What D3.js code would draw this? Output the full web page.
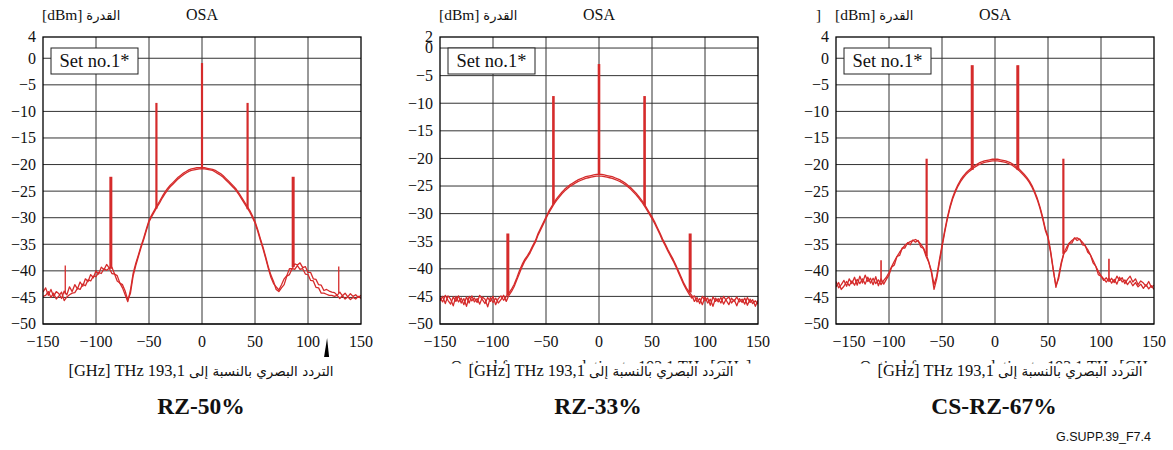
<!DOCTYPE html>
<html>
<head>
<meta charset="utf-8">
<script src="https://cdn.jsdelivr.net/npm/d3@7"></script>
<style>
  body { margin: 0; background: #fff; }
  svg text { font-family: "Liberation Serif", "Times New Roman", "DejaVu Serif", serif; fill: #111; }
  svg tspan.ar { font-family: "DejaVu Sans", sans-serif; }
</style>
</head>
<body>
<script>
// frequency grid of the OSA traces, GHz relative to 193.1 THz
const freq = d3.range(-150, 150.01, 2.5);

// RZ-50% : two sweeps
const rz50A = [
  -44.0,-43.2,-44.6,-43.5,-44.8,-43.9,-44.3,-45.2,-43.8,-44.5,
  -43.0,-43.9,-42.6,-43.4,-42.1,-42.9,-41.5,-42.0,-40.7,-41.3,
  -40.0,-40.6,-39.3,-39.8,-38.8,-39.5,-39.3,-40.6,-40.9,-42.3,
  -42.6,-43.8,-45.5,-44.2,-41.0,-39.0,-37.3,-35.6,-34.1,-32.4,
  -30.8,-29.8,-28.9,-28.0,-27.2,-26.3,-25.5,-24.8,-24.2,-23.7,
  -23.2,-22.7,-22.3,-21.9,-21.6,-21.3,-21.1,-21.0,-20.9,-20.8,
  -20.8,
  -20.8,-20.9,-21.0,-21.1,-21.4,-21.7,-22.0,-22.4,-22.9,-23.4,
  -23.9,-24.4,-25.0,-25.7,-26.5,-27.3,-28.1,-28.9,-29.9,-31.0,
  -32.5,-34.2,-35.8,-37.6,-39.5,-41.2,-42.4,-43.0,-43.6,-42.6,
  -41.5,-40.9,-39.6,-39.6,-38.7,-38.9,-38.5,-39.4,-39.2,-40.3,
  -40.3,-41.5,-41.6,-42.6,-42.7,-43.7,-43.5,-43.8,-44.0,-44.1,
  -44.6,-44.0,-44.7,-44.2,-44.9,-44.3,-44.8,-44.5,-45.0,-44.6
];
const rz50B = [
  -44.8,-44.6,-43.9,-45.0,-44.2,-45.3,-44.7,-44.0,-45.6,-44.9,
  -44.5,-44.2,-44.1,-43.3,-43.5,-42.5,-42.8,-41.7,-41.9,-41.0,
  -41.1,-40.3,-40.5,-39.6,-39.9,-39.5,-40.5,-40.6,-41.9,-42.3,
  -43.2,-44.5,-45.8,-43.6,-40.5,-38.6,-37.0,-35.3,-33.8,-32.1,
  -30.5,-29.5,-28.6,-27.7,-26.9,-26.0,-25.2,-24.5,-23.9,-23.4,
  -22.9,-22.4,-22.0,-21.6,-21.3,-21.0,-20.8,-20.7,-20.6,-20.6,
  -20.6,
  -20.6,-20.7,-20.8,-20.9,-21.1,-21.4,-21.7,-22.1,-22.6,-23.1,
  -23.6,-24.1,-24.7,-25.4,-26.2,-27.0,-27.8,-28.6,-29.6,-30.7,
  -32.2,-33.9,-35.5,-37.3,-39.2,-40.8,-42.0,-43.5,-43.9,-43.2,
  -42.6,-41.0,-40.7,-39.6,-39.7,-39.0,-39.7,-39.6,-40.6,-40.7,
  -41.8,-41.9,-43.1,-43.2,-44.2,-44.2,-44.4,-44.6,-44.6,-44.8,
  -44.6,-45.2,-44.7,-45.3,-44.9,-45.4,-45.0,-45.3,-44.8,-45.2
];
const rz50SpikeFreq = [-129, -86, -43, 0, 43, 86, 129];
const rz50SpikeTop  = [-39.0, -22.3, -8.4, -0.9, -8.4, -22.3, -39.2];
const rz50SpikeBase = [-44.4, -39.6, -28.3, -20.8, -28.4, -39.3, -44.2];

// RZ-33%
const rz33A = [
  -45.2,-46.0,-44.8,-45.7,-46.4,-45.1,-45.9,-44.9,-46.2,-45.4,
  -46.8,-45.0,-45.8,-45.3,-46.1,-44.8,-45.6,-46.3,-45.2,-45.9,
  -45.0,-46.5,-45.4,-44.9,-45.7,-45.0,-44.4,-43.7,-42.8,-41.6,
  -40.3,-39.2,-38.3,-37.6,-36.8,-35.8,-34.9,-33.6,-32.6,-31.6,
  -30.6,-29.6,-28.8,-28.0,-27.3,-26.7,-26.1,-25.6,-25.2,-24.8,
  -24.5,-24.2,-23.9,-23.7,-23.5,-23.3,-23.2,-23.1,-23.0,-22.9,
  -22.9,
  -22.9,-23.0,-23.1,-23.2,-23.3,-23.5,-23.7,-23.9,-24.2,-24.5,
  -24.9,-25.3,-25.8,-26.3,-26.9,-27.5,-28.2,-29.0,-29.8,-30.6,
  -31.5,-32.5,-33.5,-34.6,-35.5,-36.5,-37.4,-38.3,-39.3,-40.4,
  -41.5,-42.6,-43.5,-44.2,-44.8,-45.9,-45.2,-46.3,-45.0,-45.8,
  -45.3,-46.6,-45.1,-45.9,-45.4,-46.2,-45.0,-45.7,-46.5,-45.3,
  -45.9,-45.1,-46.0,-45.5,-46.4,-45.2,-46.1,-45.6,-46.8,-45.7
];
const rz33B = [
  -45.8,-45.0,-46.3,-44.9,-45.5,-46.7,-45.0,-46.0,-45.3,-46.5,
  -45.1,-46.2,-44.9,-46.0,-45.4,-46.4,-45.1,-45.5,-46.9,-45.2,
  -46.1,-45.3,-46.2,-45.6,-44.8,-45.9,-44.8,-44.1,-43.2,-42.0,
  -40.8,-39.6,-38.6,-37.9,-37.1,-36.1,-35.2,-33.9,-32.9,-31.9,
  -30.9,-29.9,-29.1,-28.3,-27.6,-27.0,-26.4,-25.9,-25.5,-25.1,
  -24.8,-24.5,-24.2,-24.0,-23.8,-23.6,-23.5,-23.4,-23.3,-23.2,
  -23.2,
  -23.2,-23.3,-23.4,-23.5,-23.6,-23.8,-24.0,-24.2,-24.5,-24.8,
  -25.2,-25.6,-26.1,-26.6,-27.2,-27.8,-28.5,-29.3,-30.1,-30.9,
  -31.8,-32.8,-33.8,-34.9,-35.8,-36.8,-37.7,-38.6,-39.6,-40.7,
  -41.8,-42.9,-43.8,-44.6,-45.3,-44.9,-46.0,-45.4,-46.5,-45.1,
  -46.2,-45.5,-46.8,-45.3,-46.0,-45.2,-46.4,-45.5,-45.1,-46.2,
  -45.6,-46.7,-45.4,-46.1,-45.3,-46.6,-45.5,-46.3,-45.8,-46.4
];
const rz33SpikeFreq = [-86, -43, 0, 43, 86];
const rz33SpikeTop  = [-33.6, -8.7, -2.9, -8.7, -33.6];
const rz33SpikeBase = [-44.8, -28.3, -22.9, -28.5, -44.3];

// CS-RZ-67%
const csrz67A = [
  -42.0,-43.2,-42.6,-41.8,-42.9,-41.5,-42.4,-41.2,-42.7,-41.0,
  -42.3,-40.8,-42.0,-41.4,-42.6,-41.1,-42.8,-41.5,-42.5,-41.6,
  -40.8,-39.3,-38.9,-37.3,-37.1,-35.7,-35.7,-34.7,-35.1,-34.2,
  -34.6,-34.3,-35.5,-35.8,-37.3,-38.4,-40.3,-43.5,-41.5,-38.5,
  -35.6,-32.8,-30.3,-28.2,-26.5,-25.2,-24.1,-23.2,-22.5,-21.9,
  -21.4,-21.0,-20.6,-20.3,-20.0,-19.8,-19.6,-19.5,-19.4,-19.3,
  -19.3,
  -19.3,-19.4,-19.5,-19.6,-19.8,-20.0,-20.3,-20.7,-21.1,-21.6,
  -22.1,-22.7,-23.4,-24.3,-25.4,-26.7,-28.3,-30.2,-32.4,-33.8,
  -36.6,-40.0,-42.8,-41.5,-38.8,-36.7,-36.2,-34.8,-34.8,-33.8,
  -34.3,-34.0,-35.1,-35.2,-36.5,-37.0,-38.5,-39.1,-40.7,-41.0,
  -41.8,-41.3,-42.0,-41.4,-42.2,-41.0,-41.8,-41.3,-42.4,-41.6,
  -41.0,-42.1,-41.5,-42.6,-41.9,-42.3,-42.9,-42.0,-43.1,-42.7
];
const csrz67B = [
  -43.0,-42.2,-43.5,-42.9,-42.0,-42.8,-41.9,-42.7,-41.6,-42.4,
  -41.5,-42.5,-41.2,-42.3,-41.4,-42.4,-41.7,-42.6,-41.8,-41.2,
  -40.3,-39.2,-38.2,-37.3,-36.5,-35.8,-35.2,-34.8,-34.5,-34.3,
  -34.1,-34.4,-35.0,-35.7,-36.8,-38.3,-40.0,-42.6,-41.0,-38.0,
  -35.2,-32.5,-30.0,-27.9,-26.2,-24.9,-23.8,-22.9,-22.2,-21.6,
  -21.1,-20.7,-20.3,-20.0,-19.7,-19.5,-19.3,-19.2,-19.1,-19.0,
  -19.0,
  -19.0,-19.1,-19.2,-19.3,-19.5,-19.7,-20.0,-20.4,-20.8,-21.3,
  -21.8,-22.4,-23.1,-24.0,-25.1,-26.4,-28.0,-29.9,-32.1,-33.5,
  -36.3,-39.7,-43.1,-41.0,-38.4,-36.6,-35.6,-34.8,-34.3,-33.9,
  -33.8,-34.1,-34.6,-35.3,-36.0,-37.0,-38.0,-39.1,-40.1,-40.9,
  -41.5,-42.1,-41.4,-42.3,-41.6,-42.5,-41.2,-42.1,-41.7,-42.6,
  -41.9,-42.8,-42.2,-43.0,-42.5,-43.3,-42.6,-43.4,-42.8,-43.5
];
const csrz67SpikeFreq = [-107.5, -64.5, -21.5, 21.5, 64.5, 107.5];
const csrz67SpikeTop  = [-38.0, -18.9, -1.3, -1.3, -18.9, -37.7];
const csrz67SpikeBase = [-42.2, -37.2, -21.0, -21.0, -36.8, -41.6];

// ticks and labels
const xTicks = [-150, -100, -50, 0, 50, 100, 150];
const yGrid = [0, -5, -10, -15, -20, -25, -30, -35, -40, -45, -50];
const titles = ["RZ-50%", "RZ-33%", "CS-RZ-67%"];
const yUnit = "[dBm] ", yWord = "القدرة";
const xUnit = "[GHz] THz 193,1 ", xWords = "التردد البصري بالنسبة إلى";
const xLabelHidden = "Optical frequency relative to 193.1 THz [GHz]";
const boxLabel = "Set no.1*";
const figId = "G.SUPP.39_F7.4";

const W = 1173, H = 450;
const red = "#d52b2b";
const plotW = 318, plotTop = 37, plotBottom = 324;

const panels = [
  { left: 43,  yMax: 4, a: rz50A, b: rz50B, sf: rz50SpikeFreq, st: rz50SpikeTop, sb: rz50SpikeBase,
    sw: [1.3, 3, 2.2, 2.2, 2.2, 3, 1.3], title: titles[0], titleDx: 158, hidden: false, marker: true, stray: false },
  { left: 440, yMax: 2, a: rz33A, b: rz33B, sf: rz33SpikeFreq, st: rz33SpikeTop, sb: rz33SpikeBase,
    sw: [3, 2.6, 2.6, 2.6, 3], title: titles[1], titleDx: 161, hidden: true, marker: false, stray: false },
  { left: 836, yMax: 4, a: csrz67A, b: csrz67B, sf: csrz67SpikeFreq, st: csrz67SpikeTop, sb: csrz67SpikeBase,
    sw: [1.6, 2.2, 3, 3, 2.2, 1.6], title: titles[2], titleDx: 174, hidden: true, marker: false, stray: true }
];

const svg = d3.select("body").append("svg")
  .attr("width", W)
  .attr("height", H);

panels.forEach((p, k) => {
  const x = d3.scaleLinear().domain([-150, 150]).range([p.left, p.left + plotW]);
  const y = d3.scaleLinear().domain([-50, p.yMax]).range([plotBottom, plotTop]);
  const g = svg.append("g");

  // clip for traces
  const clipId = "clip" + k;
  svg.append("clipPath").attr("id", clipId)
    .append("rect")
    .attr("x", x(-150)).attr("y", plotTop)
    .attr("width", plotW).attr("height", plotBottom - plotTop);

  // grid lines
  g.append("g").selectAll("line").data(yGrid).join("line")
    .attr("x1", x(-150)).attr("x2", x(150))
    .attr("y1", d => y(d)).attr("y2", d => y(d))
    .attr("stroke", "#333").attr("stroke-width", 1);
  g.append("g").selectAll("line").data(xTicks.slice(1, -1)).join("line")
    .attr("x1", d => x(d)).attr("x2", d => x(d))
    .attr("y1", plotTop).attr("y2", plotBottom)
    .attr("stroke", "#333").attr("stroke-width", 1);

  // traces
  const line = d3.line().x((d, i) => x(freq[i])).y(d => y(d));
  const tr = g.append("g").attr("clip-path", `url(#${clipId})`);
  [p.a, p.b].forEach(vals => {
    tr.append("path")
      .attr("d", line(vals))
      .attr("fill", "none")
      .attr("stroke", red)
      .attr("stroke-width", 1.3)
      .attr("stroke-linejoin", "round");
  });

  // carrier / clock tones
  tr.append("g").selectAll("line").data(p.sf).join("line")
    .attr("x1", d => x(d)).attr("x2", d => x(d))
    .attr("y1", (d, i) => y(p.sb[i])).attr("y2", (d, i) => y(p.st[i]))
    .attr("stroke", red)
    .attr("stroke-width", (d, i) => p.sw[i]);

  // frame
  g.append("rect")
    .attr("x", x(-150)).attr("y", plotTop)
    .attr("width", plotW).attr("height", plotBottom - plotTop)
    .attr("fill", "none").attr("stroke", "#000").attr("stroke-width", 1.3);

  // y tick labels
  const yTicks = [p.yMax].concat(yGrid);
  g.append("g").selectAll("text").data(yTicks).join("text")
    .attr("x", x(-150) - 7)
    .attr("y", d => y(d))
    .attr("dy", "0.34em")
    .attr("text-anchor", "end")
    .attr("font-size", 16)
    .text(d => d3.format("")(d));

  // x tick labels
  g.append("g").selectAll("text").data(xTicks).join("text")
    .attr("x", (d, i) => x(d) + (p.stray && i === 0 ? 13 : 0))
    .attr("y", 347)
    .attr("text-anchor", "middle")
    .attr("font-size", 16)
    .text(d => d3.format("")(d));

  // header
  const hd = g.append("text")
    .attr("x", x(-150) - 1).attr("y", 20)
    .attr("font-size", 15.5);
  hd.append("tspan").text(yUnit);
  hd.append("tspan").attr("class", "ar").attr("font-size", 13).text(yWord);
  g.append("text")
    .attr("x", x(0)).attr("y", 20)
    .attr("text-anchor", "middle")
    .attr("font-size", 16)
    .text("OSA");
  if (p.stray) {
    g.append("text").attr("x", x(-150) - 20).attr("y", 20)
      .attr("font-size", 15).text("]");
  }

  // "Set no.1*" box
  g.append("rect")
    .attr("x", x(-150) + 8).attr("y", 48)
    .attr("width", 87).attr("height", 26)
    .attr("fill", "#fff").attr("stroke", "#222").attr("stroke-width", 1);
  g.append("text")
    .attr("x", x(-150) + 8 + 43.5).attr("y", 61)
    .attr("dy", "0.34em")
    .attr("text-anchor", "middle")
    .attr("font-size", 18.5)
    .text(boxLabel);

  // half-hidden English axis title (only the tops of the glyphs show)
  if (p.hidden) {
    const hid = "hid" + k;
    svg.append("clipPath").attr("id", hid)
      .append("rect").attr("x", p.left).attr("y", 360).attr("width", plotW).attr("height", 3.5);
    g.append("text")
      .attr("clip-path", `url(#${hid})`)
      .attr("x", p.left + p.titleDx).attr("y", 371.5)
      .attr("text-anchor", "middle")
      .attr("font-size", 16)
      .attr("fill", "#555")
      .text(xLabelHidden);
  }

  // axis title
  const xt = g.append("text")
    .attr("x", p.left + p.titleDx).attr("y", 376)
    .attr("text-anchor", "middle")
    .attr("font-size", 16.5);
  xt.append("tspan").text(xUnit);
  xt.append("tspan").attr("class", "ar").attr("font-size", 13.5).text(xWords);

  // panel title
  g.append("text")
    .attr("x", x(0) - 1).attr("y", 414)
    .attr("text-anchor", "middle")
    .attr("font-size", 23.5)
    .attr("font-weight", "bold")
    .text(p.title);

  if (p.marker) {
    const mx = x(118);
    g.append("path")
      .attr("d", `M${mx},338 L${mx - 3},357 L${mx + 2},357 Z`)
      .attr("fill", "#000");
  }
});

svg.append("text")
  .attr("x", 1151).attr("y", 441)
  .attr("text-anchor", "end")
  .attr("font-size", 12.5)
  .style("font-family", "'Liberation Sans', Arial, sans-serif")
  .text(figId);
</script>
</body>
</html>
